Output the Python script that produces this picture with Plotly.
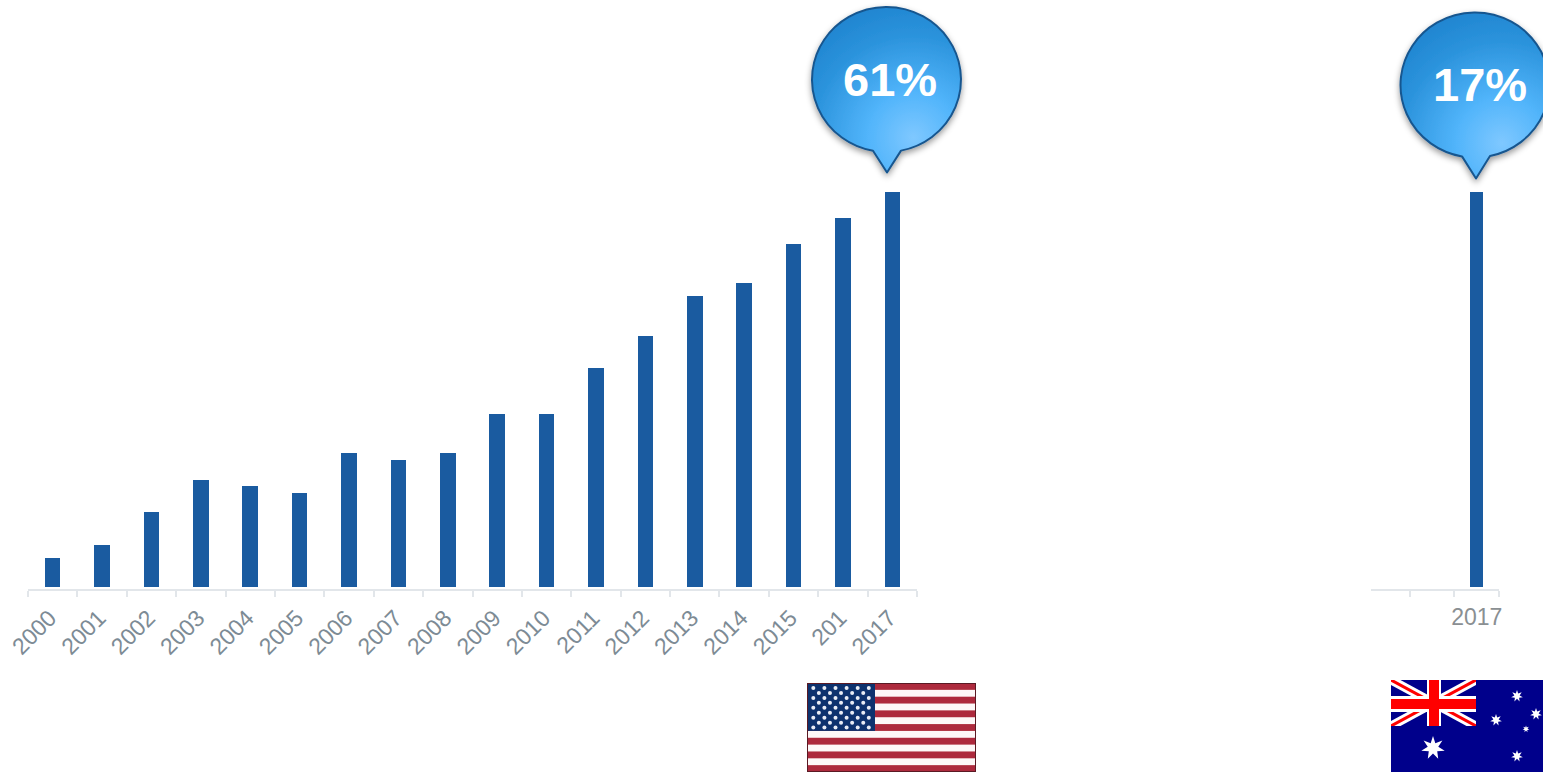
import base64
import math
import plotly.graph_objects as go

W, H = 1543, 772

# ---- data ----
us_years = ["2000", "2001", "2002", "2003", "2004", "2005", "2006", "2007", "2008",
            "2009", "2010", "2011", "2012", "2013", "2014", "2015", "201", "2017"]
us_values = [4.5, 6.5, 11.6, 16.6, 15.6, 14.5, 20.7, 19.6, 20.7,
             26.7, 26.7, 33.8, 38.8, 44.9, 46.9, 52.9, 57.0, 61]
au_years = [" ", "  ", "2017"]
au_values = [None, None, 17]
us_label = "61%"
au_label = "17%"

BAR = "#1a5ba0"
AXIS = "#e2e6ea"


def px(x):
    return x / W


def py(y):
    return 1 - y / H


def svg_image(x0, y0, x1, y1, body):
    svg = (f'<svg xmlns="http://www.w3.org/2000/svg" width="{x1-x0}" height="{y1-y0}" '
           f'viewBox="{x0} {y0} {x1-x0} {y1-y0}">{body}</svg>')
    src = "data:image/svg+xml;base64," + base64.b64encode(svg.encode()).decode()
    return dict(source=src, xref="paper", yref="paper", x=px(x0), y=py(y0),
                sizex=(x1 - x0) / W, sizey=(y1 - y0) / H, xanchor="left", yanchor="top",
                sizing="stretch", layer="above")


def bubble(uid, cx, cy, rx, ry, lx, rxp, tip):
    def edge(x):
        return cy + ry * math.sqrt(1 - ((x - cx) / rx) ** 2)
    gx, gy = cx + 27, cy + 58
    return (
        f'<defs><radialGradient id="g{uid}" gradientUnits="userSpaceOnUse" cx="{gx}" cy="{gy}" r="150">'
        '<stop offset="0" stop-color="#7fc8ff"/><stop offset="0.3" stop-color="#52b5fb"/>'
        '<stop offset="0.68" stop-color="#2b93dc"/><stop offset="1" stop-color="#1c80cc"/>'
        '</radialGradient>'
        f'<filter id="s{uid}" x="-20%" y="-20%" width="140%" height="140%">'
        '<feDropShadow dx="0" dy="3" stdDeviation="3" flood-color="#000" flood-opacity="0.4"/>'
        '</filter></defs>'
        f'<path d="M{lx} {edge(lx):.2f} A{rx} {ry} 0 1 1 {rxp} {edge(rxp):.2f} L{tip[0]} {tip[1]} Z" '
        f'fill="url(#g{uid})" stroke="#18568f" stroke-width="2" stroke-linejoin="round" filter="url(#s{uid})"/>'
    )


def star(cx, cy, r, points=7, inner=0.45):
    pts = []
    for i in range(points * 2):
        rad = r if i % 2 == 0 else r * inner
        a = -math.pi / 2 + i * math.pi / points
        pts.append(f"{cx + rad * math.cos(a):.2f},{cy + rad * math.sin(a):.2f}")
    return f'<polygon points="{" ".join(pts)}" fill="#fff"/>'


def us_flag():
    x0, y0, x1, y1 = 807, 683, 976, 772
    sh = (y1 - y0) / 13
    b = '<defs><filter id="f"><feGaussianBlur stdDeviation="0.6"/></filter></defs><g filter="url(#f)">'
    b += f'<rect x="{x0}" y="{y0}" width="{x1-x0}" height="{y1-y0}" fill="#fdf8f8"/>'
    for i in range(0, 13, 2):
        b += f'<rect x="{x0}" y="{y0+i*sh:.2f}" width="{x1-x0}" height="{sh:.2f}" fill="#ad2c3c"/>'
    b += f'<rect x="{x0}" y="{y0}" width="68" height="{7*sh:.2f}" fill="#10306e"/>'
    for r in range(9):
        y = y0 + 5 + r * 4.95
        n = 6 if r % 2 == 0 else 5
        off = 6.3 if r % 2 == 0 else 11.85
        for c in range(n):
            b += f'<circle cx="{x0+off+c*11.1:.2f}" cy="{y:.2f}" r="2" fill="#e8edf5"/>'
    b += '</g>'
    b += f'<rect x="{x0+.5}" y="{y0+.5}" width="{x1-x0-1}" height="{y1-y0-1}" fill="none" stroke="#5a1a24" stroke-width="1"/>'
    return svg_image(x0, y0, x1, y1, b)


def au_flag():
    x0, y0, x1, y1 = 1391, 680, 1543, 772
    cx0, cy0, cx1, cy1 = 1391, 680, 1476, 726
    b = f'<defs><clipPath id="c"><rect x="{cx0}" y="{cy0}" width="{cx1-cx0}" height="{cy1-cy0}"/></clipPath></defs>'
    b += f'<rect x="{x0}" y="{y0}" width="{x1-x0}" height="{y1-y0}" fill="#00008b"/>'
    b += '<g clip-path="url(#c)">'
    for d in (f"M{cx0} {cy0}L{cx1} {cy1}", f"M{cx0} {cy1}L{cx1} {cy0}"):
        b += f'<path d="{d}" stroke="#fff" stroke-width="9"/>'
        b += f'<path d="{d}" stroke="#f00" stroke-width="3"/>'
    b += f'<rect x="{cx0}" y="696" width="{cx1-cx0}" height="16" fill="#fff"/>'
    b += f'<rect x="1427" y="{cy0}" width="14" height="{cy1-cy0}" fill="#fff"/>'
    b += f'<rect x="{cx0}" y="699" width="{cx1-cx0}" height="10" fill="#f00"/>'
    b += f'<rect x="1429" y="{cy0}" width="10" height="{cy1-cy0}" fill="#f00"/>'
    b += '</g>'
    for sx, sy, r in [(1517, 696, 6), (1536, 714, 6), (1496, 720, 6), (1526, 729, 3.5), (1517, 756, 6), (1433, 748, 12)]:
        b += star(sx, sy, r, 7)
    return svg_image(x0, y0, x1, y1, b)


# ---- figure ----
scale = 395.2   # bar height (px) of the tallest bar in each panel
gap = 1.8       # px between the bar feet and the axis line
fig = go.Figure()
fig.add_trace(go.Bar(x=us_years, y=us_values, width=0.315, marker=dict(color=BAR, line_width=0),
                     xaxis="x", yaxis="y", showlegend=False))
fig.add_trace(go.Bar(x=au_years, y=au_values, width=0.29, marker=dict(color=BAR, line_width=0),
                     xaxis="x2", yaxis="y2", showlegend=False))

ydomain = [py(588.5), py(191.5)]
common_x = dict(type="category", tickson="boundaries", ticks="outside", ticklen=6, tickwidth=2,
                tickcolor=AXIS, showline=True, linecolor=AXIS, linewidth=2, showgrid=False,
                zeroline=False, automargin=False)
common_y = dict(visible=False, showgrid=False, zeroline=False, domain=ydomain, automargin=False)

fig.update_layout(
    width=W, height=H, margin=dict(l=0, r=0, t=0, b=0), autosize=False,
    paper_bgcolor="#fff", plot_bgcolor="rgba(0,0,0,0)", bargap=0,
    font=dict(family="Liberation Sans, Arial, sans-serif"),
    xaxis=dict(common_x, domain=[px(28), px(917)], anchor="y", categoryorder="array",
               categoryarray=us_years, tickangle=-45, ticklabelstandoff=5, ticklabelshift=-3,
               tickfont=dict(size=23, color="#7d8b95")),
    yaxis=dict(common_y, anchor="x", range=[-gap * max(us_values) / scale, max(us_values)]),
    xaxis2=dict(common_x, domain=[px(1371), px(1499)], anchor="y2", categoryorder="array",
                categoryarray=au_years, range=[-0.376, 2.5], tickangle=0, ticklabelstandoff=7,
                tickfont=dict(size=23, color="#8a8f92")),
    yaxis2=dict(common_y, anchor="x2", range=[-gap * 17 / scale, 17]),
    images=[
        svg_image(795, 0, 980, 190, bubble("a", 886.5, 79.5, 74.5, 72.5, 873, 901, (887, 172.5))),
        svg_image(1385, 0, 1543, 195, bubble("b", 1475, 85, 74.5, 72.5, 1462, 1490, (1476, 178.5))),
        us_flag(),
        au_flag(),
    ],
    annotations=[
        dict(text=f"<b>{us_label}</b>", xref="paper", yref="paper", x=px(890.5), y=py(79), showarrow=False,
             xanchor="center", yanchor="middle",
             font=dict(size=47, color="#fff", family="Liberation Sans, Arial, sans-serif")),
        dict(text=f"<b>{au_label}</b>", xref="paper", yref="paper", x=px(1480), y=py(85), showarrow=False,
             xanchor="center", yanchor="middle",
             font=dict(size=47, color="#fff", family="Liberation Sans, Arial, sans-serif")),
    ],
)

fig.write_html("out.html", config=dict(displayModeBar=False),
               post_script="document.body.style.margin='0';")
